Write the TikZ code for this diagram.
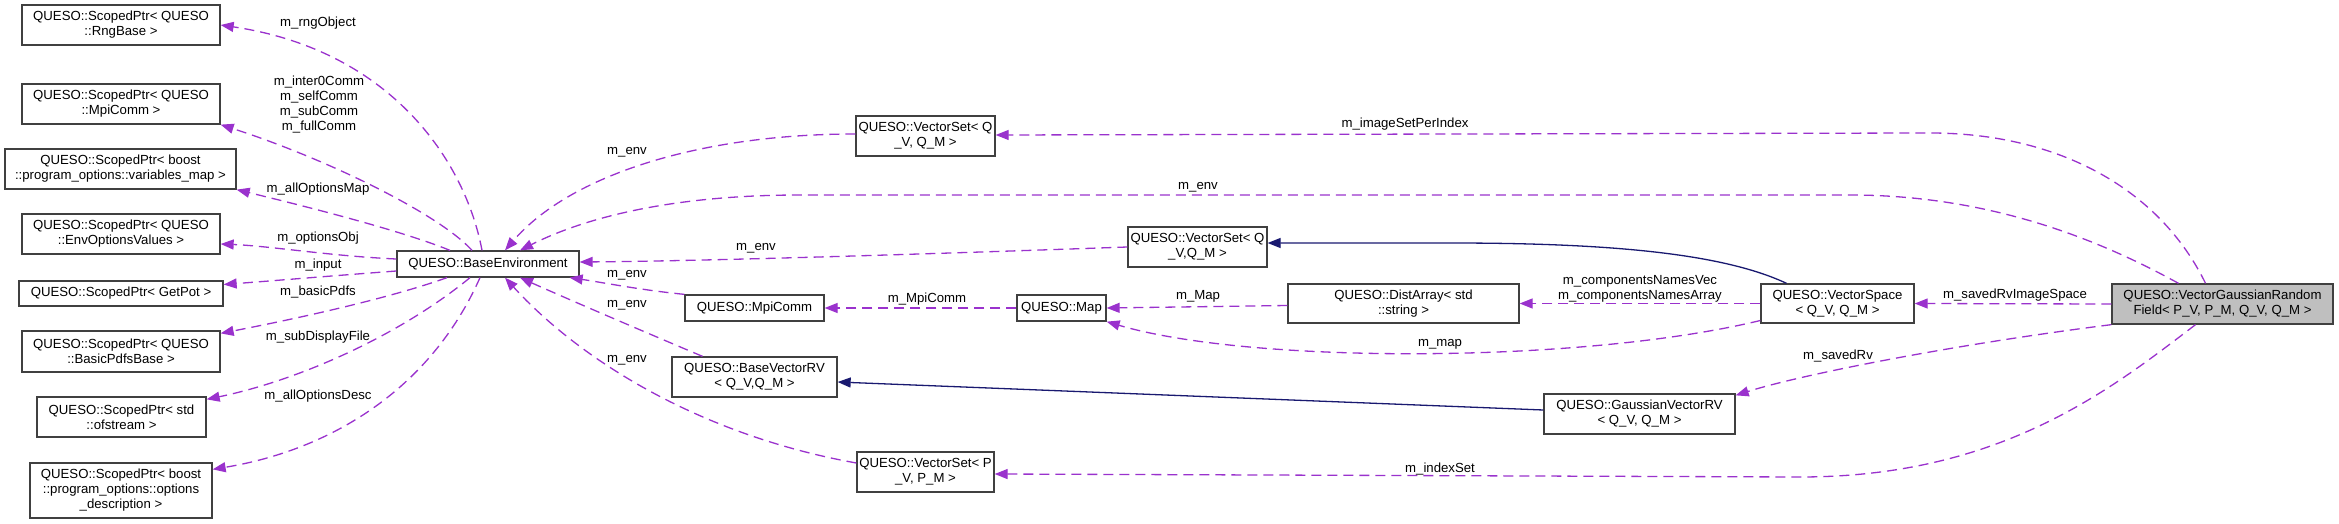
\documentclass[tikz,border=0pt]{standalone}
\usepackage{fontspec}
\setmainfont{Liberation Sans}
\usetikzlibrary{arrows.meta}
\definecolor{edgep}{HTML}{9A32CD}
\definecolor{navyc}{HTML}{191970}
\definecolor{boxb}{HTML}{404040}
\definecolor{mainfill}{HTML}{BFBFBF}
\begin{document}
\begin{tikzpicture}[x=1pt,y=-1pt,
  box/.style={draw=boxb,line width=1.3pt,fill=white,inner sep=0pt,align=center,font=\fontsize{13.2}{15}\selectfont},
  lbl/.style={inner sep=0pt,align=center,font=\fontsize{13.2}{15}\selectfont},
  mem/.style={draw=edgep,line width=1.3pt,dash pattern=on 10pt off 6pt,-{Triangle[length=13pt,width=10pt]}},
  inh/.style={draw=navyc,line width=1.3pt,-{Triangle[length=13pt,width=10pt]}}]
\useasboundingbox (0,0) rectangle (2339,524);
% left column
\node[box,minimum width=198pt,minimum height=40pt] (rng) at (121,25) {QUESO::ScopedPtr< QUESO\\::RngBase >};
\node[box,minimum width=198pt,minimum height=40pt] (mpiptr) at (121,104) {QUESO::ScopedPtr< QUESO\\::MpiComm >};
\node[box,minimum width=231pt,minimum height=40pt] (varmap) at (120.5,169) {QUESO::ScopedPtr< boost\\::program\_options::variables\_map >};
\node[box,minimum width=198pt,minimum height=40pt] (envopt) at (121,234) {QUESO::ScopedPtr< QUESO\\::EnvOptionsValues >};
\node[box,minimum width=204pt,minimum height=25pt] (getpot) at (121,293.5) {QUESO::ScopedPtr< GetPot >};
\node[box,minimum width=198pt,minimum height=41pt] (basicpdfs) at (121,351.5) {QUESO::ScopedPtr< QUESO\\::BasicPdfsBase >};
\node[box,minimum width=169pt,minimum height=40pt] (ofstream) at (121.5,417) {QUESO::ScopedPtr< std\\::ofstream >};
\node[box,minimum width=182pt,minimum height=55pt] (optdesc) at (121,490.5) {QUESO::ScopedPtr< boost\\::program\_options::options\\\_description >};
% centre
\node[box,minimum width=182pt,minimum height=26pt] (baseenv) at (488,264) {QUESO::BaseEnvironment};
\node[box,minimum width=139pt,minimum height=40pt] (vsq1) at (925.5,136) {QUESO::VectorSet< Q\\\_V, Q\_M >};
\node[box,minimum width=139pt,minimum height=40pt] (vsq2) at (1197.5,247) {QUESO::VectorSet< Q\\\_V,Q\_M >};
\node[box,minimum width=139pt,minimum height=26pt] (mpicomm) at (754.5,308) {QUESO::MpiComm};
\node[box,minimum width=165pt,minimum height=40pt] (bvrv) at (754.5,377) {QUESO::BaseVectorRV\\< Q\_V,Q\_M >};
\node[box,minimum width=137pt,minimum height=40pt] (vsp) at (925.5,472) {QUESO::VectorSet< P\\\_V, P\_M >};
\node[box,minimum width=89pt,minimum height=26pt] (map) at (1061.5,308) {QUESO::Map};
\node[box,minimum width=231pt,minimum height=39pt] (dist) at (1403.5,303.5) {QUESO::DistArray< std\\::string >};
\node[box,minimum width=153pt,minimum height=39pt] (vspace) at (1837.5,303.5) {QUESO::VectorSpace\\< Q\_V, Q\_M >};
\node[box,minimum width=191pt,minimum height=40pt] (gvrv) at (1639.5,414) {QUESO::GaussianVectorRV\\< Q\_V, Q\_M >};
\node[box,fill=mainfill,minimum width=221pt,minimum height=40pt] (vgrf) at (2222.5,304) {QUESO::VectorGaussianRandom\\Field< P\_V, P\_M, Q\_V, Q\_M >};
% edges from BaseEnvironment to left column
\draw[mem] ([xshift=-6pt]baseenv.north) .. controls (465,160) and (390,50) .. (rng.east);
\draw[mem] ([xshift=-16pt]baseenv.north) .. controls (440,215) and (330,160) .. (mpiptr.south east);
\draw[mem] ([xshift=-38pt]baseenv.north) .. controls (400,230) and (300,205) .. (varmap.south east);
\draw[mem] ([yshift=5pt]baseenv.west) .. controls (330,256) and (270,246) .. ([yshift=-10pt]envopt.east);
\draw[mem] ([yshift=-7pt]baseenv.west) .. controls (330,276) and (270,281) .. ([yshift=9pt]getpot.east);
\draw[mem] ([xshift=-41pt]baseenv.south) .. controls (390,298) and (300,318) .. ([yshift=-3pt]basicpdfs.north east);
\draw[mem] ([xshift=-18pt]baseenv.south) .. controls (400,335) and (300,380) .. ([yshift=-3pt]ofstream.north east);
\draw[mem] ([xshift=-8pt]baseenv.south) .. controls (430,390) and (330,450) .. ([yshift=-7pt]optdesc.north east);
% edges into BaseEnvironment
\draw[mem] ([yshift=2pt]vsq1.west) .. controls (700,134) and (570,175) .. ([xshift=17pt]baseenv.north);
\draw[mem] ([xshift=-44pt]vgrf.north) .. controls (2100,240) and (1990,195) .. (1850,195) -- (800,195) .. controls (680,195) and (590,215) .. ([xshift=32pt]baseenv.north);
\draw[mem] (vsq2.west) .. controls (900,255) and (700,261) .. ([yshift=2pt]baseenv.east);
\draw[mem] (mpicomm.north west) .. controls (640,290) and (600,282) .. ([xshift=-10pt]baseenv.south east);
\draw[mem] ([xshift=-52pt]bvrv.north) .. controls (640,330) and (570,300) .. ([xshift=32pt]baseenv.south);
\draw[mem] ([yshift=9pt]vsp.west) .. controls (700,435) and (580,360) .. ([xshift=17pt]baseenv.south);
% other edges
\draw[mem] ([xshift=-17pt]vgrf.north) .. controls (2160,190) and (2060,133) .. (1930,133) -- ([yshift=1pt]vsq1.east);
\draw[inh] ([xshift=-51pt]vspace.north) .. controls (1720,252) and (1600,243) .. (1450,243) -- ([yshift=4pt]vsq2.east);
\draw[mem] (vgrf.west) -- (vspace.east);
\draw[mem] (vspace.west) -- (dist.east);
\draw[mem] ([yshift=-2pt]dist.west) -- (map.east);
\draw[mem] ([yshift=-17pt]vspace.west) .. controls (1580,364) and (1250,364) .. (map.south east);
\draw[mem] (map.west) -- (mpicomm.east);
\draw[inh] ([yshift=4pt]gvrv.west) -- ([yshift=-5pt]bvrv.east);
\draw[mem] (vgrf.south west) .. controls (1950,345) and (1800,375) .. ([yshift=-2pt]gvrv.north east);
\draw[mem] ([xshift=-27pt]vgrf.south) .. controls (2110,390) and (2000,477) .. (1800,477) -- ([yshift=-2pt]vsp.east);
% labels
\node[lbl] (l1) at (318,23) {m\_rngObject};
\node[lbl] (l2) at (319,105) {m\_inter0Comm\\m\_selfComm\\m\_subComm\\m\_fullComm};
\node[lbl] (l3) at (318,189) {m\_allOptionsMap};
\node[lbl] (l4) at (318,238) {m\_optionsObj};
\node[lbl] (l5) at (318,265) {m\_input};
\node[lbl] (l6) at (318,292) {m\_basicPdfs};
\node[lbl] (l7) at (318,337) {m\_subDisplayFile};
\node[lbl] (l8) at (318,396) {m\_allOptionsDesc};
\node[lbl] (l9) at (627,152) {m\_env};
\node[lbl] (l10) at (1198,187) {m\_env};
\node[lbl] (l11) at (756,248) {m\_env};
\node[lbl] (l12) at (627,275) {m\_env};
\node[lbl] (l13) at (627,305) {m\_env};
\node[lbl] (l14) at (627,360) {m\_env};
\node[lbl] (l15) at (1405,124) {m\_imageSetPerIndex};
\node[lbl] (l16) at (2015,295) {m\_savedRvImageSpace};
\node[lbl] (l17) at (1640,288.5) {m\_componentsNamesVec\\m\_componentsNamesArray};
\node[lbl] (l18) at (1198,296) {m\_Map};
\node[lbl] (l19) at (1440,344) {m\_map};
\node[lbl] (l20) at (927,299) {m\_MpiComm};
\node[lbl] (l21) at (1838,356) {m\_savedRv};
\node[lbl] (l22) at (1440,469) {m\_indexSet};
\end{tikzpicture}
\end{document}
